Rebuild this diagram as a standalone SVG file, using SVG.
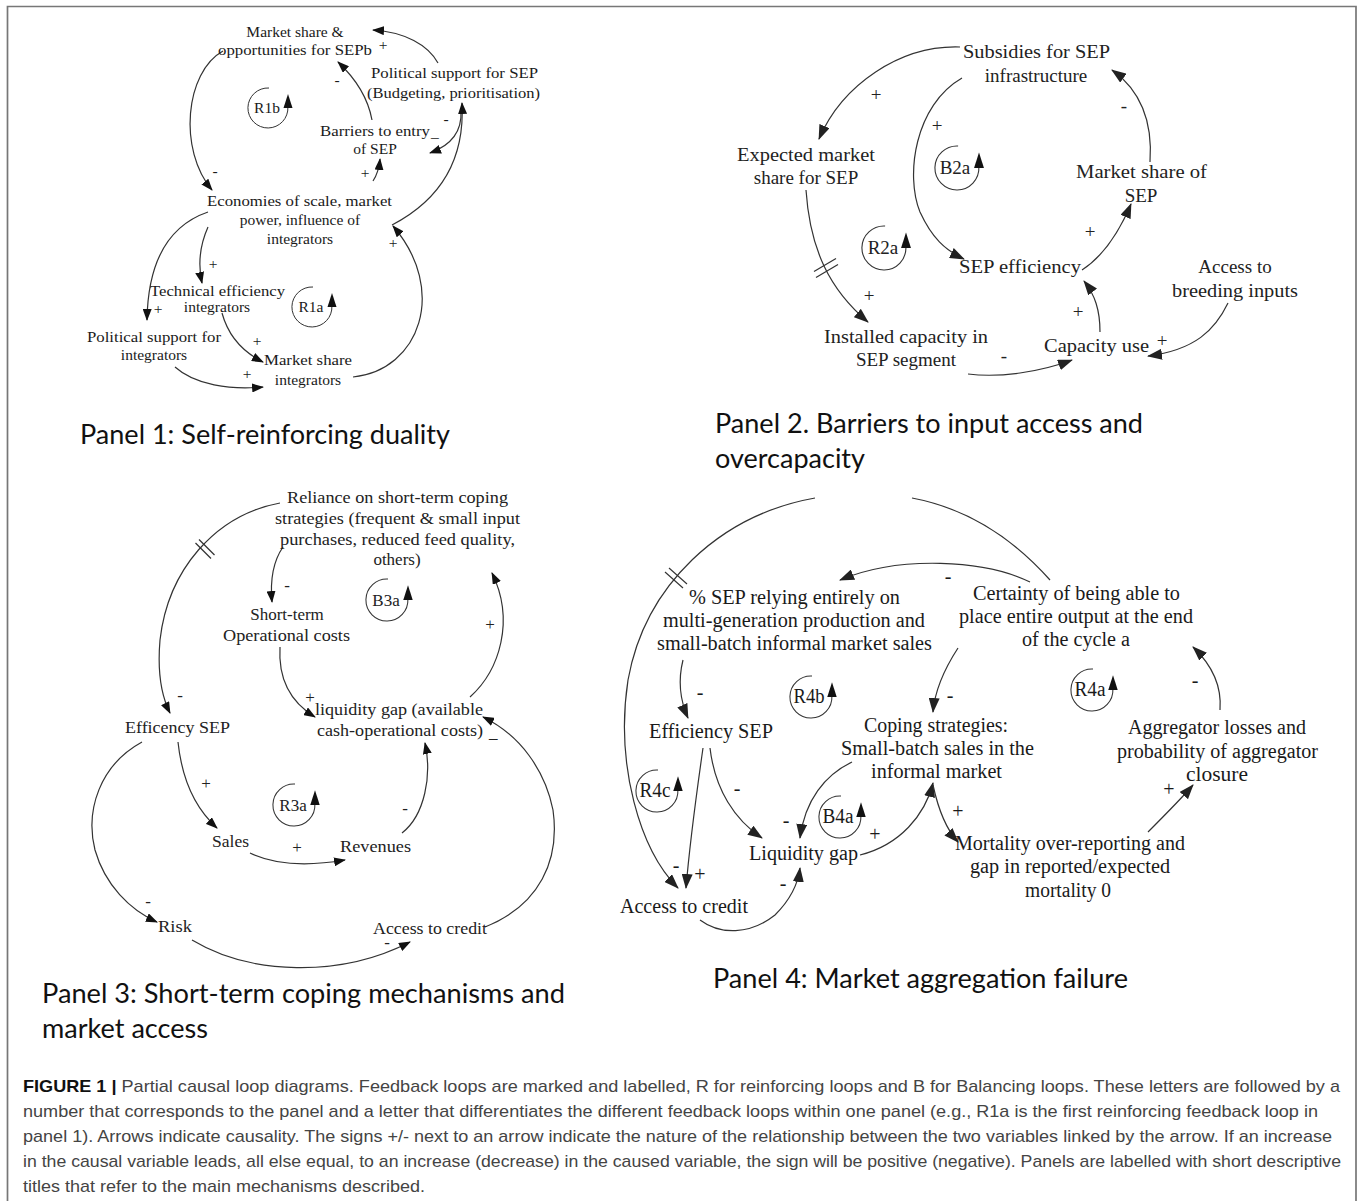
<svg xmlns="http://www.w3.org/2000/svg" width="1360" height="1201" viewBox="0 0 1360 1201">
<defs>
<style>
.t1{font-family:"Liberation Serif","Times New Roman",serif;font-size:15.5px;fill:#1a1a1a}
.t2{font-family:"Liberation Serif","Times New Roman",serif;font-size:19px;fill:#222}
.t3{font-family:"Liberation Serif","Times New Roman",serif;font-size:17px;fill:#222}
.t4{font-family:"Liberation Serif","Times New Roman",serif;font-size:20px;fill:#1a1a1a}
.m{text-anchor:middle}
.c{fill:none;stroke:#333;stroke-width:1.2}
.a{marker-end:url(#ah)}
.b{marker-end:url(#ahb)}
.sl{stroke:#333;stroke-width:1.2}
.title{font-family:Lato,"Open Sans",sans-serif;font-size:26px;fill:#111}
.cap{font-family:"Liberation Sans",Arial,sans-serif;font-size:17px;fill:#444}
.capb{font-weight:bold;fill:#111}
.loop{fill:none;stroke:#333;stroke-width:1}
</style>
<marker id="ah" markerUnits="userSpaceOnUse" markerWidth="12" markerHeight="9" refX="11" refY="4.5" orient="auto"><path d="M0,0 L12,4.5 L0,9 z" fill="#111"/></marker>
<marker id="ahb" markerUnits="userSpaceOnUse" markerWidth="15" markerHeight="11" refX="14" refY="5.5" orient="auto"><path d="M0,0 L15,5.5 L0,11 z" fill="#222"/></marker>
<g id="loopsym"><path class="loop" d="M1,-20 A20 20 0 1 0 19.9,-1"/><path d="M20,-14 L24.5,0 L15.5,0 z" fill="#111"/></g>
</defs>
<rect width="1360" height="1201" fill="#fff"/>
<path d="M7.5,1201 L7.5,6.5 L1356,6.5 L1356,1201" fill="none" stroke="#777" stroke-width="1.7"/>

<!-- Panel 1 -->
<g id="p1-connectors">
<path class="c a" d="M438,63 C428,45 405,32 373,30"/>
<path class="c a" d="M372,120 C368,98 355,78 338,62"/>
<path class="c a" d="M223,51 C185,72 178,150 212,190"/>
<path class="c a" d="M373,181 C377,175 379,170 380,159"/>
<path class="c a" d="M461,111 C462,130 452,145 430,153"/>
<path class="c a" d="M392,225 C440,200 465,160 462,103"/>
<path class="c a" d="M208,227 C200,245 198,265 202,283"/>
<path class="c a" d="M208,212 C170,225 148,260 147,320"/>
<path class="c a" d="M222,313 C228,335 243,352 263,362"/>
<path class="c a" d="M175,367 C195,385 230,390 263,387"/>
<path class="c a" d="M353,377 C420,370 448,290 393,226"/>
</g>
<g id="p1-labels" class="t1">
<text class="m" x="383" y="50">+</text>
<text class="m" x="337" y="85">-</text>
<text class="m" x="446" y="124">-</text>
<text class="m" x="365" y="178">+</text>
<text class="m" x="215" y="176">-</text>
<text class="m" x="393" y="248">+</text>
<text class="m" x="213" y="269">+</text>
<text class="m" x="158" y="314">+</text>
<text class="m" x="257" y="346">+</text>
<text class="m" x="247" y="379">+</text>
</g>
<g id="n-market-share-sepb" class="t1"><text class="m" x="295" y="37">Market share &amp;</text><text class="m" x="295" y="55" textLength="154" lengthAdjust="spacingAndGlyphs">opportunities for SEPb</text></g>
<g id="n-political-sep" class="t1"><text x="371" y="78" textLength="167" lengthAdjust="spacingAndGlyphs">Political support for SEP</text><text x="367" y="98" textLength="173" lengthAdjust="spacingAndGlyphs">(Budgeting, prioritisation)</text></g>
<g id="n-barriers" class="t1"><text x="320" y="136" textLength="110" lengthAdjust="spacingAndGlyphs">Barriers to entry</text><text x="431" y="137">_</text><text class="m" x="375" y="154">of SEP</text></g>
<g id="n-economies" class="t1"><text x="207" y="206" textLength="185" lengthAdjust="spacingAndGlyphs">Economies of scale, market</text><text class="m" x="300" y="225">power, influence of</text><text class="m" x="300" y="244">integrators</text></g>
<g id="n-tech-eff" class="t1"><text x="150" y="296" textLength="135" lengthAdjust="spacingAndGlyphs">Technical efficiency</text><text class="m" x="217" y="312">integrators</text></g>
<g id="n-pol-int" class="t1"><text x="87" y="342" textLength="134" lengthAdjust="spacingAndGlyphs">Political support for</text><text class="m" x="154" y="360">integrators</text></g>
<g id="n-ms-int" class="t1"><text x="264" y="365" textLength="88" lengthAdjust="spacingAndGlyphs">Market share</text><text class="m" x="308" y="385">integrators</text></g>
<g id="loop-R1b"><use href="#loopsym" transform="translate(268,108)"/><text class="t1 m" x="267" y="113">R1b</text></g>
<g id="loop-R1a"><use href="#loopsym" transform="translate(312,307)"/><text class="t1 m" x="311" y="312">R1a</text></g>
<text class="title" x="80" y="444" textLength="370" lengthAdjust="spacingAndGlyphs">Panel 1: Self-reinforcing duality</text>

<!-- Panel 2 -->
<g id="p2-connectors">
<path class="c b" d="M960,47 C900,45 842,85 819,139"/>
<path class="c b" d="M962,78 C915,105 905,175 920,212 C932,238 945,250 964,259"/>
<path class="c b" d="M1150,162 C1153,120 1140,90 1112,70"/>
<path class="c b" d="M1082,270 C1105,255 1120,230 1131,204"/>
<path class="c b" d="M806,190 C810,250 830,290 868,322"/>
<path class="c b" d="M968,374 C1000,378 1040,372 1072,360"/>
<path class="c b" d="M1100,332 C1100,310 1095,295 1084,281"/>
<path class="c b" d="M1228,303 C1215,330 1195,350 1148,356"/>
<line class="sl" x1="814" y1="271.5" x2="836" y2="258.5"/>
<line class="sl" x1="816" y1="277.5" x2="838" y2="264.5"/>
</g>
<g id="p2-labels" class="t2">
<text class="m" x="876" y="101">+</text>
<text class="m" x="1124" y="112">-</text>
<text class="m" x="937" y="132">+</text>
<text class="m" x="1090" y="238">+</text>
<text class="m" x="869" y="302">+</text>
<text class="m" x="1078" y="318">+</text>
<text class="m" x="1162" y="347">+</text>
<text class="m" x="1004" y="362">-</text>
</g>
<g id="n-subsidies" class="t2"><text x="963" y="58" textLength="147" lengthAdjust="spacingAndGlyphs">Subsidies for SEP</text><text class="m" x="1036" y="82">infrastructure</text></g>
<g id="n-expected" class="t2"><text x="737" y="161" textLength="138" lengthAdjust="spacingAndGlyphs">Expected market</text><text class="m" x="806" y="184">share for SEP</text></g>
<g id="n-ms-sep" class="t2"><text x="1076" y="178" textLength="131" lengthAdjust="spacingAndGlyphs">Market share of</text><text class="m" x="1141" y="202">SEP</text></g>
<g id="n-sep-eff" class="t2"><text x="959" y="273" textLength="122" lengthAdjust="spacingAndGlyphs">SEP efficiency</text></g>
<g id="n-breeding" class="t2"><text class="m" x="1235" y="273">Access to</text><text x="1172" y="297" textLength="126" lengthAdjust="spacingAndGlyphs">breeding inputs</text></g>
<g id="n-installed" class="t2"><text x="824" y="343" textLength="164" lengthAdjust="spacingAndGlyphs">Installed capacity in</text><text class="m" x="906" y="366">SEP segment</text></g>
<g id="n-capuse" class="t2"><text x="1044" y="352" textLength="105" lengthAdjust="spacingAndGlyphs">Capacity use</text></g>
<g id="loop-B2a"><use href="#loopsym" transform="translate(957,168) scale(1.1)"/><text class="t2 m" x="955" y="174">B2a</text></g>
<g id="loop-R2a"><use href="#loopsym" transform="translate(884,248) scale(1.1)"/><text class="t2 m" x="883" y="254">R2a</text></g>
<text class="title" x="715" y="433" textLength="428" lengthAdjust="spacingAndGlyphs">Panel 2. Barriers to input access and</text>
<text class="title" x="715" y="468" textLength="150" lengthAdjust="spacingAndGlyphs">overcapacity</text>

<!-- Panel 3 -->
<g id="p3-connectors">
<path class="c a" d="M280,503 C215,515 168,570 160,640 C157,675 162,697 170,713"/>
<line class="sl" x1="195.5" y1="543" x2="211" y2="558.5"/>
<line class="sl" x1="199" y1="539.5" x2="214.5" y2="555"/>
<path class="c a" d="M283,547 C274,560 270,580 272,602"/>
<path class="c a" d="M280,647 C278,680 292,703 315,717"/>
<path class="c a" d="M470,697 C500,670 515,620 492,573"/>
<path class="c a" d="M178,742 C182,780 195,808 217,828"/>
<path class="c a" d="M250,853 C275,865 310,866 345,860"/>
<path class="c a" d="M402,833 C425,815 432,775 425,743"/>
<path class="c a" d="M142,742 C100,765 85,810 95,850 C105,885 130,910 157,922"/>
<path class="c a" d="M192,940 C250,975 340,978 410,942"/>
<path class="c a" d="M485,927 C540,905 560,860 553,810 C545,770 520,735 483,717"/>
</g>
<g id="p3-labels" class="t3">
<text class="m" x="287" y="591">-</text>
<text class="m" x="490" y="630">+</text>
<text class="m" x="180" y="701">-</text>
<text class="m" x="310" y="703">+</text>
<text x="489" y="738">_</text>
<text class="m" x="206" y="789">+</text>
<text class="m" x="405" y="814">-</text>
<text class="m" x="297" y="853">+</text>
<text class="m" x="148" y="907">-</text>
<text class="m" x="387" y="948">-</text>
</g>
<g id="n-reliance" class="t3"><text x="287" y="503" textLength="221" lengthAdjust="spacingAndGlyphs">Reliance on short-term coping</text><text x="275" y="524" textLength="245" lengthAdjust="spacingAndGlyphs">strategies (frequent &amp; small input</text><text x="280" y="545" textLength="235" lengthAdjust="spacingAndGlyphs">purchases, reduced feed quality,</text><text class="m" x="397" y="565">others)</text></g>
<g id="n-shortterm" class="t3"><text class="m" x="287" y="620">Short-term</text><text x="223" y="641" textLength="127" lengthAdjust="spacingAndGlyphs">Operational costs</text></g>
<g id="n-liquidity3" class="t3"><text x="315" y="715" textLength="168" lengthAdjust="spacingAndGlyphs">liquidity gap (available</text><text x="317" y="736" textLength="166" lengthAdjust="spacingAndGlyphs">cash-operational costs)</text></g>
<g id="n-eff3" class="t3"><text x="125" y="733" textLength="105" lengthAdjust="spacingAndGlyphs">Efficency SEP</text></g>
<g id="n-sales" class="t3"><text x="212" y="847" textLength="37" lengthAdjust="spacingAndGlyphs">Sales</text></g>
<g id="n-revenues" class="t3"><text x="340" y="852" textLength="71" lengthAdjust="spacingAndGlyphs">Revenues</text></g>
<g id="n-risk" class="t3"><text x="158" y="932" textLength="34" lengthAdjust="spacingAndGlyphs">Risk</text></g>
<g id="n-credit3" class="t3"><text x="373" y="934" textLength="114" lengthAdjust="spacingAndGlyphs">Access to credit</text></g>
<g id="loop-B3a"><use href="#loopsym" transform="translate(387,600) scale(1.05)"/><text class="t3 m" x="386" y="606">B3a</text></g>
<g id="loop-R3a"><use href="#loopsym" transform="translate(294,805) scale(1.05)"/><text class="t3 m" x="293" y="811">R3a</text></g>
<text class="title" x="42" y="1003" textLength="523" lengthAdjust="spacingAndGlyphs">Panel 3: Short-term coping mechanisms and</text>
<text class="title" x="42" y="1038" textLength="166" lengthAdjust="spacingAndGlyphs">market access</text>

<!-- Panel 4 -->
<g id="p4-connectors">
<path class="c b" d="M1030,582 C985,560 900,555 840,580"/>
<path class="c" d="M1050,580 C1010,535 965,508 912,498"/>
<path class="c b" d="M815,498 C720,515 645,585 628,680 C615,765 640,850 678,888"/>
<line class="sl" x1="665" y1="572" x2="683" y2="588"/>
<line class="sl" x1="669" y1="568" x2="687" y2="584"/>
<path class="c b" d="M683,660 C678,680 680,700 688,718"/>
<path class="c b" d="M958,648 C945,668 935,688 933,712"/>
<path class="c b" d="M703,748 C697,790 690,840 686,888"/>
<path class="c b" d="M710,748 C715,790 735,820 762,838"/>
<path class="c b" d="M852,762 C825,775 805,800 800,838"/>
<path class="c b" d="M860,855 C900,845 925,815 933,783"/>
<path class="c b" d="M933,785 C938,808 945,828 958,842"/>
<path class="c b" d="M1148,832 C1165,815 1180,800 1193,785"/>
<path class="c b" d="M1220,710 C1222,685 1212,665 1193,647"/>
<path class="c b" d="M700,920 C720,935 750,935 775,915 C790,900 798,885 800,868"/>
</g>
<g id="p4-labels" class="t4">
<text class="m" x="948" y="583">-</text>
<text class="m" x="700" y="699">-</text>
<text class="m" x="950" y="702">-</text>
<text class="m" x="1195" y="687">-</text>
<text class="m" x="737" y="795">-</text>
<text class="m" x="786" y="827">-</text>
<text class="m" x="875" y="841">+</text>
<text class="m" x="958" y="818">+</text>
<text class="m" x="1169" y="796">+</text>
<text class="m" x="676" y="872">-</text>
<text class="m" x="700" y="881">+</text>
<text class="m" x="783" y="890">-</text>
</g>
<g id="n-pct-sep" class="t4"><text x="689" y="604" textLength="211" lengthAdjust="spacingAndGlyphs">% SEP relying entirely on</text><text x="663" y="627" textLength="262" lengthAdjust="spacingAndGlyphs">multi-generation production and</text><text x="657" y="650" textLength="275" lengthAdjust="spacingAndGlyphs">small-batch informal market sales</text></g>
<g id="n-certainty" class="t4"><text x="973" y="600" textLength="207" lengthAdjust="spacingAndGlyphs">Certainty of being able to</text><text x="959" y="623" textLength="234" lengthAdjust="spacingAndGlyphs">place entire output at the end</text><text x="1022" y="646" textLength="108" lengthAdjust="spacingAndGlyphs">of the cycle a</text></g>
<g id="n-eff4" class="t4"><text x="649" y="738" textLength="124" lengthAdjust="spacingAndGlyphs">Efficiency SEP</text></g>
<g id="n-coping" class="t4"><text x="864" y="732" textLength="144" lengthAdjust="spacingAndGlyphs">Coping strategies:</text><text x="841" y="755" textLength="193" lengthAdjust="spacingAndGlyphs">Small-batch sales in the</text><text x="871" y="778" textLength="131" lengthAdjust="spacingAndGlyphs">informal market</text></g>
<g id="n-aggregator" class="t4"><text x="1128" y="734" textLength="178" lengthAdjust="spacingAndGlyphs">Aggregator losses and</text><text x="1117" y="758" textLength="201" lengthAdjust="spacingAndGlyphs">probability of aggregator</text><text class="m" x="1217" y="781" textLength="62" lengthAdjust="spacingAndGlyphs">closure</text></g>
<g id="n-liquidity4" class="t4"><text x="749" y="860" textLength="109" lengthAdjust="spacingAndGlyphs">Liquidity gap</text></g>
<g id="n-mortality" class="t4"><text x="955" y="850" textLength="230" lengthAdjust="spacingAndGlyphs">Mortality over-reporting and</text><text x="970" y="873" textLength="200" lengthAdjust="spacingAndGlyphs">gap in reported/expected</text><text class="m" x="1068" y="897" textLength="86" lengthAdjust="spacingAndGlyphs">mortality 0</text></g>
<g id="n-credit4" class="t4"><text x="620" y="913" textLength="128" lengthAdjust="spacingAndGlyphs">Access to credit</text></g>
<g id="loop-R4b"><use href="#loopsym" transform="translate(811,697) scale(1.05)"/><text class="t4 m" x="809" y="703" textLength="31" lengthAdjust="spacingAndGlyphs">R4b</text></g>
<g id="loop-R4a"><use href="#loopsym" transform="translate(1092,690) scale(1.05)"/><text class="t4 m" x="1090" y="696" textLength="31" lengthAdjust="spacingAndGlyphs">R4a</text></g>
<g id="loop-R4c"><use href="#loopsym" transform="translate(657,791) scale(1.05)"/><text class="t4 m" x="655" y="797" textLength="31" lengthAdjust="spacingAndGlyphs">R4c</text></g>
<g id="loop-B4a"><use href="#loopsym" transform="translate(840,817) scale(1.05)"/><text class="t4 m" x="838" y="823" textLength="31" lengthAdjust="spacingAndGlyphs">B4a</text></g>
<text class="title" x="713" y="988" textLength="415" lengthAdjust="spacingAndGlyphs">Panel 4: Market aggregation failure</text>

<!-- Caption -->
<g id="caption" class="cap">
<text x="23" y="1092" textLength="1317" lengthAdjust="spacingAndGlyphs"><tspan class="capb">FIGURE 1 |</tspan> Partial causal loop diagrams. Feedback loops are marked and labelled, R for reinforcing loops and B for Balancing loops. These letters are followed by a</text>
<text x="23" y="1117" textLength="1295" lengthAdjust="spacingAndGlyphs">number that corresponds to the panel and a letter that differentiates the different feedback loops within one panel (e.g., R1a is the first reinforcing feedback loop in</text>
<text x="23" y="1142" textLength="1309" lengthAdjust="spacingAndGlyphs">panel 1). Arrows indicate causality. The signs +/- next to an arrow indicate the nature of the relationship between the two variables linked by the arrow. If an increase</text>
<text x="23" y="1167" textLength="1318" lengthAdjust="spacingAndGlyphs">in the causal variable leads, all else equal, to an increase (decrease) in the caused variable, the sign will be positive (negative). Panels are labelled with short descriptive</text>
<text x="23" y="1192" textLength="402" lengthAdjust="spacingAndGlyphs">titles that refer to the main mechanisms described.</text>
</g>
</svg>
